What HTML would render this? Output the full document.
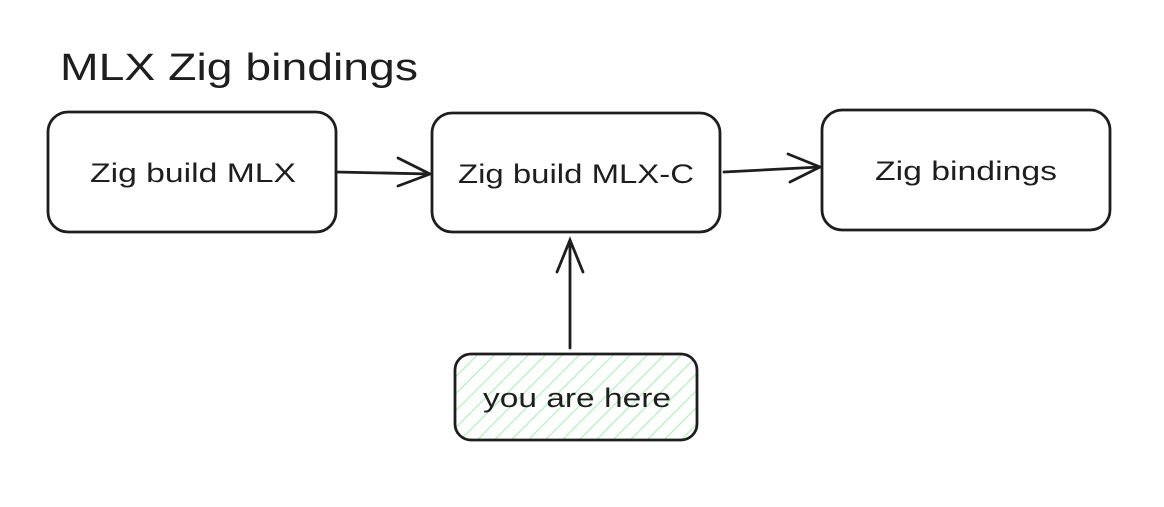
<!DOCTYPE html>
<html><head><meta charset="utf-8"><style>
html,body{margin:0;padding:0;background:#fff;}
body{width:1164px;height:502px;overflow:hidden;}
</style></head><body>
<svg width="1164" height="502" viewBox="0 0 1164 502" xmlns="http://www.w3.org/2000/svg">
<defs>
<pattern id="h" patternUnits="userSpaceOnUse" width="12" height="12" patternTransform="rotate(45)">
<rect width="12" height="12" fill="#fff"/>
<line x1="0" y1="0" x2="0" y2="12" stroke="#b2f2bb" stroke-width="2.5"/>
</pattern>
</defs>
<g font-family="'Liberation Sans',sans-serif" fill="#1e1e1e">
<text x="60" y="80" font-size="38" textLength="358" lengthAdjust="spacingAndGlyphs">MLX Zig bindings</text>
</g>
<g fill="none" stroke="#1e1e1e" stroke-width="2.8" stroke-linecap="round">
<rect x="48" y="112" width="288" height="120" rx="20"/>
<rect x="432" y="113" width="288" height="119" rx="20"/>
<rect x="822" y="110" width="288" height="120" rx="20"/>
<rect x="455" y="354" width="242" height="86" rx="16" fill="url(#h)"/>
<path d="M336 172 L430 174 M398 158 L430 174 L398 186"/>
<path d="M724 172 L820 167 M788 154 L820 167 L790 182"/>
<path d="M570 348 L570 240 M557 272 L570 240 L583 272"/>
</g>
<g font-family="'Liberation Sans',sans-serif" font-size="27" fill="#1e1e1e">
<text x="90" y="182" textLength="206" lengthAdjust="spacingAndGlyphs">Zig build MLX</text>
<text x="458" y="183" textLength="236" lengthAdjust="spacingAndGlyphs">Zig build MLX-C</text>
<text x="875" y="180" textLength="182" lengthAdjust="spacingAndGlyphs">Zig bindings</text>
<text x="483" y="407" textLength="188" lengthAdjust="spacingAndGlyphs">you are here</text>
</g>
</svg>
</body></html>
